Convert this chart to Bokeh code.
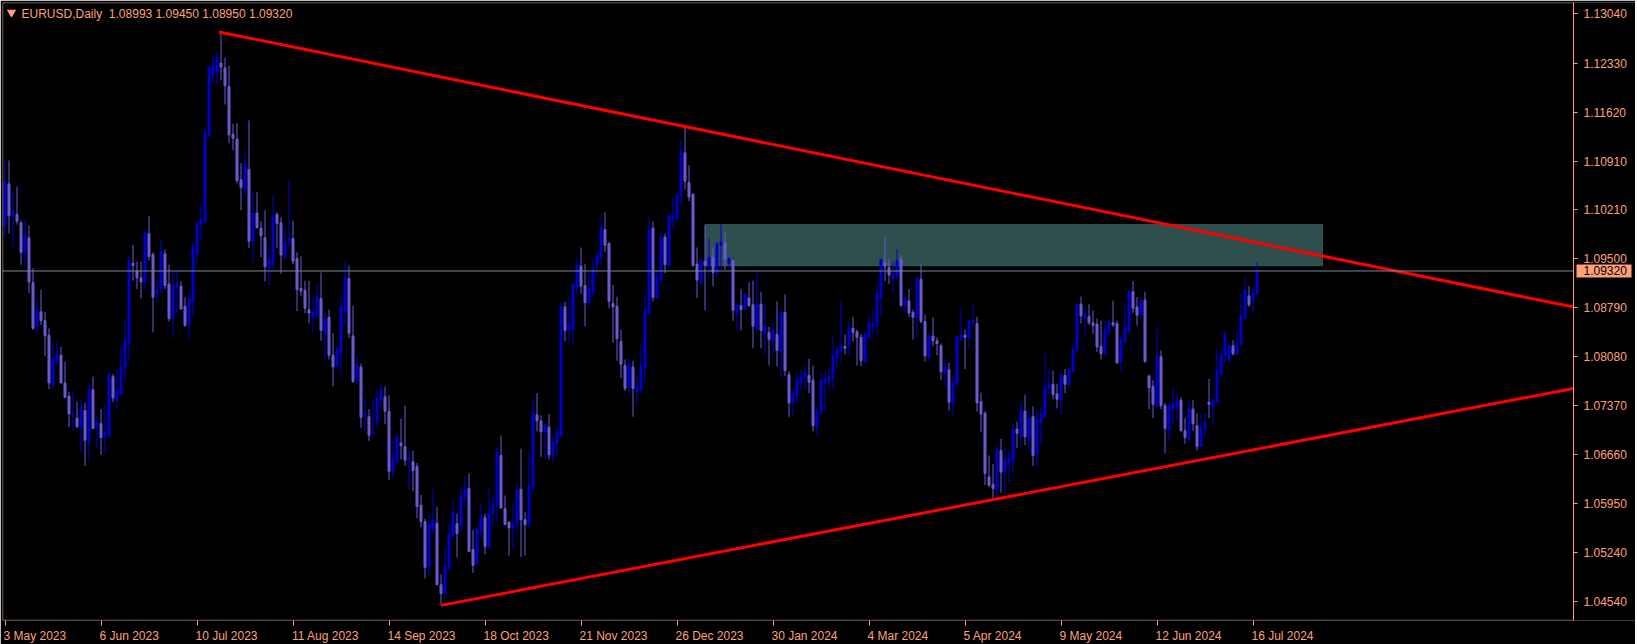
from bokeh.plotting import figure
from bokeh.models import (ColumnDataSource, FixedTicker, PrintfTickFormatter, Range1d,
                          Label, LinearAxis, BoxAnnotation)
from bokeh.embed import file_html
from bokeh.resources import INLINE

# ---------------- data (EURUSD daily) ----------------
symbol_title = "EURUSD,Daily"

opens = [
    1.0998, 1.1058, 1.1011, 1.1014, 1.1002, 1.0959, 1.0980, 1.0915, 1.0852, 1.0873,
    1.0860, 1.0839, 1.0768, 1.0802, 1.0810, 1.0770, 1.0751, 1.0724, 1.0719, 1.0706,
    1.0730, 1.0683, 1.0760, 1.0707, 1.0711, 1.0691, 1.0693, 1.0779, 1.0745, 1.0753,
    1.0791, 1.0828, 1.0943, 1.0932, 1.0922, 1.0916, 1.0986, 1.0956, 1.0898, 1.0906,
    1.0957, 1.0913, 1.0863, 1.0909, 1.0910, 1.0881, 1.0854, 1.0887, 1.0956, 1.0999,
    1.1003, 1.1128, 1.1216, 1.1221, 1.1233, 1.1226, 1.1199, 1.1130, 1.1123, 1.1064,
    1.1051, 1.1079, 1.0975, 1.1016, 1.0994, 1.0980, 1.0937, 1.0942, 1.1014, 1.1002,
    1.0952, 1.0975, 1.0979, 1.0950, 1.0907, 1.0904, 1.0876, 1.0864, 1.0867, 1.0892,
    1.0842, 1.0865, 1.0810, 1.0795, 1.0813, 1.0872, 1.0921, 1.0838, 1.0774, 1.0793,
    1.0723, 1.0721, 1.0697, 1.0713, 1.0746, 1.0750, 1.0729, 1.0641, 1.0656, 1.0683,
    1.0678, 1.0658, 1.0656, 1.0649, 1.0593, 1.0569, 1.0503, 1.0560, 1.0567, 1.0478,
    1.0465, 1.0501, 1.0548, 1.0566, 1.0563, 1.0605, 1.0617, 1.0529, 1.0508, 1.0557,
    1.0575, 1.0533, 1.0581, 1.0593, 1.0665, 1.0588, 1.0568, 1.0560, 1.0565, 1.0616,
    1.0572, 1.0566, 1.0619, 1.0724, 1.0715, 1.0699, 1.0706, 1.0665, 1.0682, 1.0694,
    1.0880, 1.0847, 1.0847, 1.0909, 1.0939, 1.0911, 1.0886, 1.0902, 1.0941, 1.0952,
    1.0992, 1.0972, 1.0885, 1.0881, 1.0830, 1.0795, 1.0763, 1.0793, 1.0758, 1.0759,
    1.0793, 1.0871, 1.0994, 1.0893, 1.0919, 1.0981, 1.0940, 1.1006, 1.1008, 1.1041,
    1.1103, 1.1060, 1.1043, 1.0942, 1.0914, 1.0946, 1.0940, 1.0951, 1.0928, 1.0969,
    1.0973, 1.0943, 1.0947, 1.0871, 1.0882, 1.0876, 1.0893, 1.0883, 1.0847, 1.0884,
    1.0842, 1.0843, 1.0831, 1.0840, 1.0815, 1.0872, 1.0782, 1.0742, 1.0752, 1.0770,
    1.0777, 1.0781, 1.0774, 1.0707, 1.0726, 1.0770, 1.0772, 1.0777, 1.0806, 1.0817,
    1.0823, 1.0824, 1.0849, 1.0844, 1.0836, 1.0801, 1.0835, 1.0853, 1.0853, 1.0893,
    1.0944, 1.0937, 1.0921, 1.0925, 1.0949, 1.0882, 1.0889, 1.0872, 1.0864, 1.0920,
    1.0859, 1.0807, 1.0838, 1.0831, 1.0824, 1.0786, 1.0789, 1.0740, 1.0769, 1.0832,
    1.0839, 1.0835, 1.0858, 1.0856, 1.0743, 1.0726, 1.0634, 1.0623, 1.0615, 1.0672,
    1.0642, 1.0655, 1.0655, 1.0703, 1.0692, 1.0729, 1.0689, 1.0721, 1.0665, 1.0712,
    1.0721, 1.0762, 1.0768, 1.0754, 1.0745, 1.0781, 1.0768, 1.0787, 1.0818, 1.0884,
    1.0864, 1.0866, 1.0857, 1.0855, 1.0823, 1.0812, 1.0843, 1.0857, 1.0856, 1.0801,
    1.0829, 1.0844, 1.0902, 1.0880, 1.0869, 1.0890, 1.0780, 1.0765, 1.0736, 1.0808,
    1.0737, 1.0701, 1.0732, 1.0737, 1.0745, 1.0701, 1.0688, 1.0732, 1.0708, 1.0678,
    1.0703, 1.0742, 1.0735, 1.0742, 1.0782, 1.0810, 1.0802, 1.0824, 1.0812, 1.0826,
    1.0864, 1.0896, 1.0889, 1.08993,
]

highs = [
    1.1092, 1.1092, 1.1048, 1.1054, 1.1005, 1.1007, 1.0998, 1.0936, 1.0891, 1.0905,
    1.0873, 1.0849, 1.0829, 1.0831, 1.0822, 1.0801, 1.0757, 1.0759, 1.0743, 1.0746,
    1.0741, 1.0770, 1.0779, 1.0723, 1.0732, 1.0740, 1.0785, 1.0783, 1.0790, 1.0824,
    1.0864, 1.0953, 1.0970, 1.0946, 1.0945, 1.0991, 1.1012, 1.0959, 1.0920, 1.0978,
    1.0963, 1.0941, 1.0931, 1.0934, 1.0917, 1.0894, 1.0901, 1.0974, 1.1003, 1.1027,
    1.1141, 1.1230, 1.1245, 1.1250, 1.1278, 1.1241, 1.1229, 1.1145, 1.1146, 1.1088,
    1.1106, 1.1150, 1.1046, 1.1046, 1.1004, 1.1020, 1.0963, 1.1043, 1.1017, 1.1010,
    1.0995, 1.1064, 1.1005, 1.0959, 1.0953, 1.0918, 1.0918, 1.0894, 1.0913, 1.0930,
    1.0871, 1.0876, 1.0842, 1.0823, 1.0893, 1.0946, 1.0940, 1.0882, 1.0809, 1.0798,
    1.0748, 1.0732, 1.0744, 1.0759, 1.0769, 1.0765, 1.0752, 1.0688, 1.0698, 1.0718,
    1.0737, 1.0672, 1.0672, 1.0654, 1.0608, 1.0573, 1.0581, 1.0617, 1.0591, 1.0493,
    1.0532, 1.0567, 1.0600, 1.0581, 1.0620, 1.0635, 1.0639, 1.0557, 1.0562, 1.0595,
    1.0581, 1.0617, 1.0605, 1.0678, 1.0694, 1.0607, 1.0570, 1.0597, 1.0625, 1.0675,
    1.0583, 1.0668, 1.0745, 1.0755, 1.0723, 1.0711, 1.0725, 1.0692, 1.0706, 1.0887,
    1.0887, 1.0895, 1.0915, 1.0952, 1.0966, 1.0942, 1.0929, 1.0949, 1.0960, 1.1010,
    1.1017, 1.0974, 1.0912, 1.0895, 1.0847, 1.0804, 1.0805, 1.0802, 1.0778, 1.0827,
    1.0897, 1.1010, 1.1004, 1.0933, 1.0987, 1.0986, 1.1013, 1.1039, 1.1045, 1.1123,
    1.1141, 1.1085, 1.1045, 1.0966, 1.0950, 1.0999, 1.0979, 1.0966, 1.0974, 1.1000,
    1.0988, 1.0952, 1.0947, 1.0884, 1.0906, 1.0900, 1.0916, 1.0918, 1.0933, 1.0902,
    1.0884, 1.0851, 1.0857, 1.0888, 1.0875, 1.0898, 1.0787, 1.0761, 1.0784, 1.0789,
    1.0795, 1.0805, 1.0795, 1.0734, 1.0785, 1.0788, 1.0790, 1.0839, 1.0824, 1.0888,
    1.0840, 1.0860, 1.0866, 1.0847, 1.0841, 1.0843, 1.0867, 1.0876, 1.0915, 1.0949,
    1.0982, 1.0949, 1.0945, 1.0963, 1.0955, 1.0899, 1.0906, 1.0876, 1.0923, 1.0942,
    1.0869, 1.0843, 1.0865, 1.0836, 1.0827, 1.0805, 1.0799, 1.0780, 1.0838, 1.0876,
    1.0847, 1.0861, 1.0884, 1.0866, 1.0756, 1.0729, 1.0665, 1.0653, 1.0679, 1.0689,
    1.0678, 1.0672, 1.0711, 1.0714, 1.0741, 1.0753, 1.0732, 1.0736, 1.0732, 1.0734,
    1.0812, 1.0790, 1.0788, 1.0769, 1.0784, 1.0790, 1.0792, 1.0827, 1.0887, 1.0895,
    1.0881, 1.0884, 1.0875, 1.0863, 1.0860, 1.0860, 1.0863, 1.0889, 1.0860, 1.0837,
    1.0882, 1.0904, 1.0917, 1.0894, 1.0892, 1.0902, 1.0782, 1.0774, 1.0851, 1.0817,
    1.0741, 1.0742, 1.0761, 1.0754, 1.0749, 1.0719, 1.0745, 1.0745, 1.0726, 1.0725,
    1.0726, 1.0776, 1.0747, 1.0817, 1.0818, 1.0846, 1.0826, 1.0832, 1.0846, 1.0899,
    1.0923, 1.0910, 1.0910, 1.09450,
]

lows = [
    1.0985, 1.0986, 1.0966, 1.0999, 1.0941, 1.0941, 1.0900, 1.0847, 1.0844, 1.0854,
    1.0809, 1.0761, 1.0760, 1.0795, 1.0769, 1.0748, 1.0706, 1.0701, 1.0704, 1.0671,
    1.0650, 1.0661, 1.0703, 1.0675, 1.0666, 1.0667, 1.0691, 1.0742, 1.0732, 1.0752,
    1.0773, 1.0803, 1.0918, 1.0906, 1.0892, 1.0905, 1.0947, 1.0843, 1.0887, 1.0900,
    1.0906, 1.0859, 1.0835, 1.0870, 1.0876, 1.0851, 1.0834, 1.0866, 1.0944, 1.0977,
    1.1000, 1.1126, 1.1203, 1.1202, 1.1208, 1.1173, 1.1117, 1.1107, 1.1059, 1.1020,
    1.1041, 1.0965, 1.0944, 1.0993, 1.0952, 1.0917, 1.0911, 1.0934, 1.0965, 1.0928,
    1.0949, 1.0966, 1.0942, 1.0874, 1.0896, 1.0871, 1.0856, 1.0843, 1.0865, 1.0831,
    1.0801, 1.0804, 1.0765, 1.0793, 1.0781, 1.0853, 1.0835, 1.0770, 1.0770, 1.0705,
    1.0702, 1.0686, 1.0692, 1.0705, 1.0735, 1.0710, 1.0630, 1.0632, 1.0653, 1.0659,
    1.0650, 1.0616, 1.0613, 1.0574, 1.0561, 1.0487, 1.0490, 1.0552, 1.0477, 1.0448,
    1.0458, 1.0499, 1.0547, 1.0517, 1.0554, 1.0591, 1.0525, 1.0495, 1.0507, 1.0546,
    1.0522, 1.0528, 1.0564, 1.0569, 1.0588, 1.0564, 1.0520, 1.0530, 1.0552, 1.0518,
    1.0520, 1.0560, 1.0613, 1.0700, 1.0663, 1.0659, 1.0659, 1.0655, 1.0664, 1.0692,
    1.0830, 1.0829, 1.0824, 1.0897, 1.0899, 1.0852, 1.0881, 1.0894, 1.0924, 1.0942,
    1.0959, 1.0878, 1.0828, 1.0802, 1.0777, 1.0758, 1.0754, 1.0721, 1.0741, 1.0757,
    1.0772, 1.0869, 1.0888, 1.0892, 1.0915, 1.0929, 1.0939, 1.0992, 1.1003, 1.1027,
    1.1050, 1.1033, 1.0938, 1.0893, 1.0913, 1.0875, 1.0923, 1.0910, 1.0923, 1.0934,
    1.0934, 1.0935, 1.0860, 1.0843, 1.0846, 1.0875, 1.0880, 1.0820, 1.0846, 1.0820,
    1.0811, 1.0795, 1.0811, 1.0794, 1.0778, 1.0780, 1.0721, 1.0721, 1.0740, 1.0759,
    1.0760, 1.0755, 1.0700, 1.0694, 1.0724, 1.0730, 1.0760, 1.0760, 1.0789, 1.0800,
    1.0811, 1.0811, 1.0830, 1.0795, 1.0794, 1.0798, 1.0834, 1.0840, 1.0840, 1.0866,
    1.0917, 1.0913, 1.0901, 1.0918, 1.0880, 1.0872, 1.0865, 1.0833, 1.0835, 1.0856,
    1.0801, 1.0801, 1.0823, 1.0810, 1.0774, 1.0766, 1.0730, 1.0723, 1.0763, 1.0831,
    1.0790, 1.0821, 1.0853, 1.0728, 1.0699, 1.0622, 1.0619, 1.0601, 1.0605, 1.0611,
    1.0610, 1.0623, 1.0640, 1.0676, 1.0677, 1.0680, 1.0670, 1.0650, 1.0649, 1.0681,
    1.0720, 1.0754, 1.0746, 1.0733, 1.0723, 1.0755, 1.0763, 1.0786, 1.0811, 1.0856,
    1.0835, 1.0854, 1.0841, 1.0815, 1.0804, 1.0811, 1.0840, 1.0851, 1.0798, 1.0787,
    1.0828, 1.0843, 1.0871, 1.0853, 1.0864, 1.0799, 1.0732, 1.0719, 1.0735, 1.0732,
    1.0668, 1.0687, 1.0710, 1.0716, 1.0699, 1.0682, 1.0685, 1.0701, 1.0672, 1.0677,
    1.0691, 1.0719, 1.0708, 1.0741, 1.0781, 1.0798, 1.0801, 1.0810, 1.0810, 1.0824,
    1.0861, 1.0880, 1.0871, 1.08950,
]

closes = [
    1.1061, 1.1012, 1.1018, 1.1004, 1.0959, 1.0983, 1.0916, 1.0849, 1.0875, 1.0860,
    1.0838, 1.0770, 1.0805, 1.0812, 1.0770, 1.0749, 1.0725, 1.0726, 1.0707, 1.0734,
    1.0687, 1.0761, 1.0704, 1.0712, 1.0691, 1.0698, 1.0782, 1.0748, 1.0758, 1.0793,
    1.0831, 1.0946, 1.0940, 1.0922, 1.0916, 1.0987, 1.0953, 1.0894, 1.0905, 1.0960,
    1.0911, 1.0863, 1.0911, 1.0914, 1.0877, 1.0853, 1.0892, 1.0967, 1.1001, 1.1007,
    1.1131, 1.1226, 1.1229, 1.1241, 1.1227, 1.1200, 1.1129, 1.1124, 1.1063, 1.1053,
    1.1087, 1.0975, 1.1016, 1.0995, 1.0983, 1.0938, 1.0948, 1.1011, 1.1001, 1.0955,
    1.0973, 1.0979, 1.0946, 1.0905, 1.0903, 1.0878, 1.0871, 1.0872, 1.0896, 1.0846,
    1.0863, 1.0810, 1.0793, 1.0818, 1.0881, 1.0923, 1.0842, 1.0772, 1.0796, 1.0720,
    1.0725, 1.0694, 1.0700, 1.0748, 1.0761, 1.0729, 1.0642, 1.0662, 1.0691, 1.0679,
    1.0658, 1.0662, 1.0643, 1.0591, 1.0569, 1.0503, 1.0566, 1.0572, 1.0478, 1.0465,
    1.0504, 1.0551, 1.0584, 1.0552, 1.0606, 1.0618, 1.0526, 1.0506, 1.0559, 1.0577,
    1.0533, 1.0581, 1.0595, 1.0670, 1.0589, 1.0565, 1.0560, 1.0565, 1.0614, 1.0572,
    1.0565, 1.0621, 1.0727, 1.0715, 1.0699, 1.0710, 1.0666, 1.0684, 1.0699, 1.0880,
    1.0846, 1.0855, 1.0913, 1.0940, 1.0910, 1.0886, 1.0907, 1.0935, 1.0954, 1.0995,
    1.0969, 1.0888, 1.0880, 1.0834, 1.0797, 1.0762, 1.0797, 1.0762, 1.0765, 1.0795,
    1.0875, 1.0992, 1.0894, 1.0924, 1.0980, 1.0941, 1.1012, 1.1012, 1.1041, 1.1106,
    1.1062, 1.1039, 1.0940, 1.0919, 1.0948, 1.0940, 1.0952, 1.0930, 1.0971, 1.0974,
    1.0949, 1.0950, 1.0875, 1.0882, 1.0876, 1.0898, 1.0882, 1.0852, 1.0884, 1.0846,
    1.0853, 1.0833, 1.0846, 1.0817, 1.0872, 1.0788, 1.0741, 1.0755, 1.0774, 1.0778,
    1.0785, 1.0771, 1.0708, 1.0728, 1.0774, 1.0776, 1.0779, 1.0809, 1.0817, 1.0824,
    1.0820, 1.0850, 1.0843, 1.0836, 1.0802, 1.0840, 1.0856, 1.0856, 1.0898, 1.0949,
    1.0939, 1.0926, 1.0928, 1.0947, 1.0882, 1.0890, 1.0871, 1.0865, 1.0922, 1.0859,
    1.0809, 1.0837, 1.0831, 1.0827, 1.0786, 1.0793, 1.0742, 1.0770, 1.0837, 1.0839,
    1.0836, 1.0860, 1.0861, 1.0741, 1.0725, 1.0639, 1.0622, 1.0617, 1.0674, 1.0641,
    1.0658, 1.0661, 1.0703, 1.0697, 1.0730, 1.0692, 1.0719, 1.0665, 1.0717, 1.0725,
    1.0763, 1.0769, 1.0753, 1.0746, 1.0782, 1.0768, 1.0789, 1.0819, 1.0883, 1.0867,
    1.0870, 1.0857, 1.0853, 1.0822, 1.0812, 1.0846, 1.0858, 1.0854, 1.0799, 1.0832,
    1.0850, 1.0902, 1.0878, 1.0868, 1.0889, 1.0801, 1.0763, 1.0739, 1.0809, 1.0737,
    1.0704, 1.0736, 1.0740, 1.0745, 1.0701, 1.0691, 1.0734, 1.0711, 1.0678, 1.0705,
    1.0713, 1.0739, 1.0746, 1.0788, 1.0811, 1.0840, 1.0823, 1.0812, 1.0828, 1.0867,
    1.0905, 1.0883, 1.0899, 1.09320,
]

# time axis: bar index of each labelled date
date_tick_bars = [0, 24, 48, 72, 96, 120, 144, 168, 192, 216, 240, 264, 288, 312]
date_tick_labels = ["3 May 2023", "6 Jun 2023", "10 Jul 2023", "11 Aug 2023", "14 Sep 2023",
                    "18 Oct 2023", "21 Nov 2023", "26 Dec 2023", "30 Jan 2024", "4 Mar 2024",
                    "5 Apr 2024", "9 May 2024", "12 Jun 2024", "16 Jul 2024"]
price_ticks = [1.13040, 1.12330, 1.11620, 1.10910, 1.10210, 1.09500, 1.08790,
               1.08080, 1.07370, 1.06660, 1.05950, 1.05240, 1.04540]

# drawn objects (anchors as bar index / price)
upper_line_bars = [53.5, 170]
upper_line_prices = [1.1278, 1.1141]
lower_line_bars = [109, 247]
lower_line_prices = [1.0448, 1.0601]
zone_bars = [175, 329.5]
zone_prices = [1.0939, 1.1000]
bid_price = closes[-1]

# ---------------- styling / geometry ----------------
FG = "#FFA07A"
BULL = "#0000CD"
BEAR = "#6A5ACD"
FONT = "Liberation Sans"
FONT_PX = 12

PPX = 4.0                      # pixels per bar
PLOT_W = 1571                  # visible chart area width (px)
FW = 1633                      # frame incl. price-scale strip
FH = 618
x_lo = -0.625                  # puts bar centres on half pixels (crisp 1px wicks)
x_plot_hi = x_lo + PLOT_W / PPX
x_hi = x_lo + FW / PPX
y_lo, y_hi = 1.04261, 1.13206
PPY = FH / (y_hi - y_lo)

p = figure(x_range=Range1d(x_lo, x_hi), y_range=Range1d(y_lo, y_hi),
           frame_width=FW, frame_height=FH, y_axis_location=None,
           toolbar_location=None, tools="", output_backend="svg",
           background_fill_color="black", border_fill_color="black",
           min_border_left=2, min_border_top=2, min_border_right=0, min_border_bottom=22)
p.grid.visible = False
p.outline_line_color = None

# zone rectangle (behind candles)
p.quad(left=[zone_bars[0]], right=[zone_bars[1]], bottom=[zone_prices[0]], top=[zone_prices[1]],
       fill_color="#2F4F4F", line_color=None)

# candles
bars = list(range(len(closes)))
colors = [BULL if c >= o else BEAR for o, c in zip(opens, closes)]
src = ColumnDataSource(dict(
    x=bars, o=opens, h=highs, l=lows, c=closes,
    top=[max(o, c) for o, c in zip(opens, closes)],
    bottom=[min(o, c) for o, c in zip(opens, closes)],
    color=colors))
p.segment(x0="x", y0="l", x1="x", y1="h", line_color="color", line_width=1, source=src)
p.vbar(x="x", width=0.5, top="top", bottom="bottom", fill_color="color",
       line_color="color", line_width=1, source=src)

# trend lines (rays extended to the right edge of the chart area)
for bx, py in ((upper_line_bars, upper_line_prices), (lower_line_bars, lower_line_prices)):
    slope = (py[1] - py[0]) / (bx[1] - bx[0])
    end_y = py[0] + slope * (x_plot_hi - bx[0])
    p.line([bx[0], x_plot_hi], [py[0], end_y], line_color="#FF0000", line_width=3)

# bid line
p.segment(x0=[x_lo], y0=[bid_price], x1=[x_plot_hi], y1=[bid_price],
          line_color="#778899", line_width=1)

# chart border (left / top / bottom); right side is the price axis line
half_x = 0.5 / PPX
half_y = 0.5 / PPY
p.add_layout(BoxAnnotation(left=x_lo + half_x, right=x_plot_hi, bottom=y_lo + half_y,
                           top=y_hi - half_y, fill_alpha=0, fill_color=None,
                           line_color=FG, line_width=1))

# price axis, pinned to the right edge of the chart area
ya = LinearAxis(fixed_location=x_plot_hi)
ya.ticker = FixedTicker(ticks=price_ticks)
ya.formatter = PrintfTickFormatter(format="%.5f")
ya.axis_line_color = FG
ya.major_tick_line_color = FG
ya.minor_tick_line_color = None
ya.major_tick_out = 4
ya.major_tick_in = 0
ya.major_label_text_color = FG
ya.major_label_text_font = FONT
ya.major_label_text_font_size = "%dpx" % FONT_PX
ya.major_label_standoff = 6
p.add_layout(ya, "right")

# time axis: tick marks at the bars, labels left-aligned at each tick
CHAR_EM = {" ": 0.278, "M": 0.833, "J": 0.5, "A": 0.667, "S": 0.667, "O": 0.778, "N": 0.722,
           "D": 0.722, "a": 0.556, "y": 0.5, "u": 0.556, "n": 0.556, "l": 0.222, "g": 0.556,
           "e": 0.556, "p": 0.556, "c": 0.5, "t": 0.278, "o": 0.556, "v": 0.5, "r": 0.333,
           "b": 0.556}


def text_px(s):
    return sum(CHAR_EM.get(ch, 0.556) for ch in s) * FONT_PX


label_centers = [round(b + (text_px(t) / 2 - 1.5) / PPX, 3)
                 for b, t in zip(date_tick_bars, date_tick_labels)]
xa = p.xaxis[0]
xa.ticker = FixedTicker(ticks=label_centers, minor_ticks=date_tick_bars)
xa.major_label_overrides = {c: t for c, t in zip(label_centers, date_tick_labels)}
xa.axis_line_color = None
xa.major_tick_line_color = None
xa.major_tick_out = 5
xa.major_tick_in = 0
xa.minor_tick_line_color = FG
xa.minor_tick_out = 5
xa.minor_tick_in = 0
xa.major_label_standoff = 3
xa.major_label_text_color = FG
xa.major_label_text_font = FONT
xa.major_label_text_font_size = "%dpx" % FONT_PX

# header (non-breaking space keeps the double gap in SVG)
title = "%s\u00a0 %.5f %.5f %.5f %.5f" % (symbol_title, opens[-1], highs[-1], lows[-1], closes[-1])
p.add_layout(Label(x=x_lo, y=y_hi, x_offset=19, y_offset=-4, text=title,
                   text_align="left", text_baseline="top", text_color=FG,
                   text_font=FONT, text_font_size="%dpx" % FONT_PX))
tri_x = x_lo + 9 / PPX
tri_y = y_hi - 10 / PPY
p.scatter([tri_x], [tri_y], marker="inverted_triangle", size=8, color=FG)

# current price box on the price scale
box = p.quad(left=[x_plot_hi + 3 / PPX], right=[x_plot_hi + 58 / PPX],
             bottom=[bid_price - 6.5 / PPY], top=[bid_price + 6.5 / PPY],
             fill_color=FG, line_color=None)
box.level = "overlay"
p.add_layout(Label(x=x_plot_hi, y=bid_price, x_offset=10, text="%.5f" % bid_price,
                   text_align="left", text_baseline="middle", text_color="black",
                   text_font=FONT, text_font_size="%dpx" % FONT_PX, level="overlay"))

open("out.html", "w").write(file_html(p, INLINE))
